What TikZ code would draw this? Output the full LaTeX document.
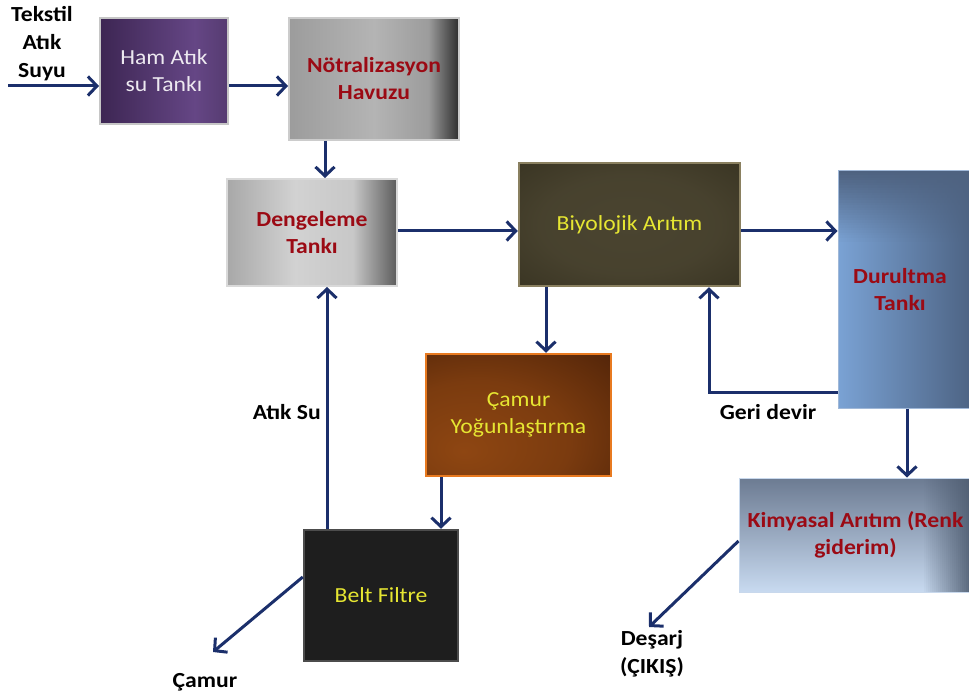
\documentclass[tikz,border=0pt]{standalone}
\usepackage{fontspec}
\setmainfont{Carlito}[FakeStretch=1.1]
\usetikzlibrary{arrows.meta,calc}
\definecolor{navy}{HTML}{1B2F6B}
\definecolor{dred}{HTML}{9B0A14}
\definecolor{yel}{HTML}{E6E632}
\definecolor{hamA}{HTML}{3D2653}
\definecolor{hamB}{HTML}{654685}
\definecolor{ntA}{HTML}{9C9C9C}
\definecolor{ntB}{HTML}{B4B4B4}
\definecolor{ntC}{HTML}{2E2E2E}
\definecolor{dgA}{HTML}{A8A8A8}
\definecolor{dgB}{HTML}{D2D2D2}
\definecolor{dgC}{HTML}{5C5C5C}
\definecolor{bioA}{HTML}{2E2A1A}
\definecolor{bioB}{HTML}{4A4430}
\definecolor{duA}{HTML}{7AA2D4}
\definecolor{duB}{HTML}{8DB2E0}
\definecolor{duC}{HTML}{4C6282}
\definecolor{duT}{HTML}{4E6280}
\definecolor{cyA}{HTML}{4E2208}
\definecolor{cyB}{HTML}{8E4612}
\definecolor{kiA}{HTML}{6C7B92}
\definecolor{kiB}{HTML}{B9CDE8}
\definecolor{kiC}{HTML}{C8DAF0}
\definecolor{kiR}{HTML}{4E5C70}
\pgfdeclarehorizontalshading{hamsh}{100bp}{color(0bp)=(hamA); color(25bp)=(hamA); color(62bp)=(hamB); color(75bp)=(hamB!85!black); color(100bp)=(hamB!85!black)}
\pgfdeclarehorizontalshading{ntsh}{100bp}{color(0bp)=(ntA); color(25bp)=(ntA); color(50bp)=(ntB); color(66bp)=(ntA); color(75bp)=(ntC); color(100bp)=(ntC)}
\pgfdeclarehorizontalshading{dgsh}{100bp}{color(0bp)=(dgA); color(25bp)=(dgA); color(45bp)=(dgB); color(62bp)=(dgB!95!black); color(75bp)=(dgC); color(100bp)=(dgC)}
\pgfdeclareradialshading{biosh}{\pgfpoint{0bp}{0bp}}{color(0bp)=(bioB); color(20bp)=(bioB!90!bioA); color(50bp)=(bioA); color(100bp)=(bioA)}
\pgfdeclareradialshading{cysh}{\pgfpoint{-15bp}{-15bp}}{color(0bp)=(cyB); color(25bp)=(cyB!70!cyA); color(50bp)=(cyA); color(100bp)=(cyA)}
\begin{document}
\begin{tikzpicture}[x=1pt,y=-1pt,
  box/.style={rectangle, inner sep=0pt, align=center, font=\fontsize{21.5}{27}\selectfont},
  redt/.style={text=dred, font=\fontsize{21.5}{27}\selectfont\bfseries},
  yelt/.style={text=yel},
  lbl/.style={align=center, inner sep=0pt, font=\fontsize{21.5}{28}\selectfont\bfseries, text=black},
  arr/.style={draw=navy, line width=3pt, -{Straight Barb[length=9pt,width=19pt,line width=3pt]}}]
\useasboundingbox[fill=white] (0,0) rectangle (969,695);

\node[box, shading=hamsh, draw=gray!45, line width=2pt, minimum width=128pt, minimum height=106pt, text=white!88!hamB] (ham) at (164,71) {Ham Atık\\su Tankı};
\node[box, redt, shading=ntsh, draw=gray!40, line width=2pt, minimum width=170pt, minimum height=122pt] (notr) at (374,79) {Nötralizasyon\\Havuzu};
\node[box, redt, shading=dgsh, draw=gray!30, line width=2pt, minimum width=170pt, minimum height=107pt] (deng) at (312,232.5) {Dengeleme\\Tankı};
\node[box, yelt, shading=biosh, draw={rgb,255:red,138;green,128;blue,96}, line width=2.5pt, minimum width=221pt, minimum height=123pt] (biyo) at (629.5,224.5) {Biyolojik Arıtım};
\node[box, redt, left color=duA, middle color=duB, right color=duC, draw={rgb,255:red,160;green,184;blue,216}, line width=1pt, minimum width=136pt, minimum height=237pt,
  path picture={\foreach \i [evaluate=\i as \p using {int(100*\i/28)}] in {0,...,27}
    {\shade[left color=duA!\p!duT, middle color=duB!\p!duT, right color=duC!\p!duT]
      ([yshift={-2.5*\i*1pt}]path picture bounding box.north west) rectangle
      ([yshift={-(2.5*\i+3)*1pt}]path picture bounding box.north east);}}] (dur) at (906,289.5) {\hspace*{-12pt}Durultma\\\hspace*{-12pt}Tankı};
\node[box, yelt, shading=cysh, draw={rgb,255:red,232;green,122;blue,32}, line width=2.5pt, minimum width=185pt, minimum height=122pt] (camy) at (518.5,415) {Çamur\\Yoğunlaştırma};
\node[box, yelt, fill={rgb,255:red,30;green,30;blue,30}, draw=gray!60!black, line width=2.5pt, minimum width=154pt, minimum height=131pt] (belt) at (381,595.5) {Belt Filtre};
\node[box, redt, top color=kiA, middle color=kiB, bottom color=kiC, draw={rgb,255:red,200;green,216;blue,236}, line width=1pt, minimum width=233pt, minimum height=114pt,
  path picture={\foreach \i [evaluate=\i as \p using {int(100-3.8*\i)}] in {0,...,23}
    {\shade[top color=kiA!\p!kiR, middle color=kiB!\p!kiR, bottom color=kiC!\p!kiR]
      ([xshift={(-50+2*\i)*1pt}]path picture bounding box.north east) rectangle
      ([xshift={(-47.5+2*\i)*1pt}]path picture bounding box.south east);}}] (kim) at (855.5,535) {Kimyasal Arıtım (Renk\\giderim)};

\node[lbl] (tekstil) at (42,44) {Tekstil\\Atık\\Suyu};
\node[lbl, anchor=east] (atiksu) at (321,412) {Atık Su};
\node[lbl] (geri) at (768,412) {Geri devir};
\node[lbl] (camur) at (205,682) {Çamur};
\node[lbl] (desarj) at (652,654) {Deşarj\\(ÇIKIŞ)};

\coordinate (src) at (8,86);
\coordinate (camurend) at (213,652);
\coordinate (desend) at (649,627);

\draw[arr] (src) -- (src -| ham.west);
\draw[arr] (ham.east |- src) -- (notr.west |- src);
\draw[arr] (notr.south -| 325,0) -- (deng.north -| 325,0);
\draw[arr] (deng.east |- 0,231) -- (biyo.west |- 0,231);
\draw[arr] (biyo.east |- 0,231) -- (dur.west |- 0,231);
\draw[arr] (biyo.south -| 546,0) -- (camy.north -| 546,0);
\draw[arr] (dur.west |- 0,392) -| (biyo.south -| 709,0);
\draw[arr] (dur.south -| 907,0) -- (kim.north -| 907,0);
\draw[arr] (camy.south -| 441,0) -- (belt.north -| 441,0);
\draw[arr] (belt.north -| 327,0) -- (deng.south -| 327,0);
\draw[arr] (belt.west |- 0,577) -- (camurend);
\draw[arr] (kim.west |- 0,541) -- (desend);
\end{tikzpicture}
\end{document}
